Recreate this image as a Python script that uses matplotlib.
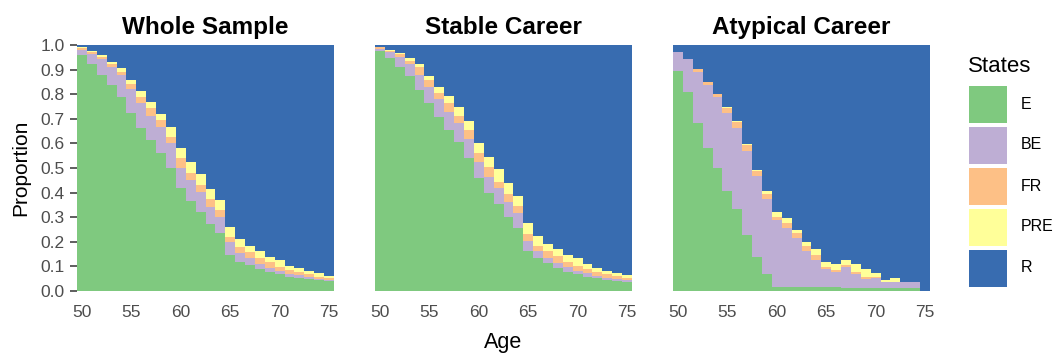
import matplotlib
matplotlib.use("Agg")
import matplotlib.pyplot as plt
from matplotlib.patches import Rectangle

ages = list(range(50, 76))
states = ["E", "BE", "FR", "PRE", "R"]
state_colors = ["#7FC97F", "#BEAED4", "#FDC086", "#FFFF99", "#386CB0"]
panel_titles = ["Whole Sample", "Stable Career", "Atypical Career"]

whole_E = [.959, .923, .879, .836, .787, .722, .664, .614, .560, .501, .417, .364, .322,
           .271, .234, .146, .119, .106, .088, .076, .068, .058, .054, .047, .043, .041]
whole_BE = [.021, .040, .064, .073, .092, .100, .099, .099, .105, .099, .084, .087, .079,
            .072, .065, .052, .034, .027, .022, .019, .015, .011, .010, .009, .007, .005]
whole_FR = [.009, .009, .010, .014, .010, .021, .027, .030, .030, .027, .038, .030, .030,
            .030, .030, .023, .025, .024, .023, .022, .016, .016, .012, .012, .008, .005]
whole_PRE = [.004, .002, .008, .009, .019, .015, .024, .027, .025, .041, .044, .042, .043,
             .042, .041, .041, .033, .026, .028, .023, .027, .018, .019, .013, .017, .009]
whole_R = [.007, .026, .039, .068, .092, .142, .186, .230, .280, .332, .417, .477, .526,
           .585, .630, .738, .789, .817, .839, .860, .874, .897, .905, .919, .925, .940]

stable_E = [.976, .946, .909, .874, .817, .763, .709, .654, .607, .539, .461, .400, .352,
            .302, .255, .164, .133, .112, .095, .079, .068, .058, .051, .045, .042, .038]
stable_BE = [.008, .024, .044, .049, .062, .065, .070, .075, .075, .079, .065, .065, .065,
             .058, .061, .041, .030, .021, .017, .017, .015, .014, .011, .009, .008, .007]
stable_FR = [.007, .007, .009, .013, .030, .030, .027, .034, .029, .036, .034, .038, .027,
             .034, .031, .027, .021, .030, .030, .023, .020, .017, .017, .014, .011, .009]
stable_PRE = [.002, .003, .005, .010, .014, .016, .022, .030, .038, .037, .043, .043, .051,
              .044, .039, .046, .041, .028, .027, .027, .030, .021, .016, .013, .014, .011]
stable_R = [.007, .020, .033, .054, .077, .126, .172, .207, .251, .309, .397, .454, .505,
            .562, .614, .722, .775, .809, .831, .854, .867, .890, .905, .919, .925, .935]

atyp_E = [.896, .808, .684, .583, .501, .408, .335, .226, .140, .068, .018, .018, .018,
          .018, .018, .018, .018, .011, .011, .011, .011, .011, .011, .011, .011, 0]
atyp_BE = [.077, .135, .205, .254, .286, .314, .329, .343, .327, .305, .269, .239, .196,
           .146, .108, .071, .061, .088, .057, .039, .043, .024, .027, .027, .027, 0]
atyp_FR = [0, 0, .012, .014, .012, .023, .024, .023, .021, .021, .015, .021, .020,
           .019, .020, .007, .006, .007, .008, .006, .004, 0, 0, 0, 0, 0]
atyp_PRE = [0, 0, 0, 0, 0, .004, .004, .004, .003, .013, .018, .020, .014,
            .015, .023, .023, .025, .020, .034, .032, .017, .010, .016, 0, 0, 0]
atyp_R = [.027, .057, .099, .149, .201, .251, .308, .404, .509, .593, .680, .702, .752,
          .802, .831, .881, .890, .874, .890, .912, .925, .955, .946, .962, .962, 1.0]

panel_data = [
    [whole_E, whole_BE, whole_FR, whole_PRE, whole_R],
    [stable_E, stable_BE, stable_FR, stable_PRE, stable_R],
    [atyp_E, atyp_BE, atyp_FR, atyp_PRE, atyp_R],
]

y_ticks = [i / 10 for i in range(11)]
x_ticks = [50, 55, 60, 65, 70, 75]

FONT = "Liberation Sans"
W, H = 1056, 356
fig = plt.figure(figsize=(W / 100, H / 100), dpi=100)
plt.rcParams["font.family"] = [FONT, "DejaVu Sans"]

lefts = [77, 375, 673]
top, bottom, width = 45, 291, 257
tick_col = "#4D4D4D"

for i, (left, title, series) in enumerate(zip(lefts, panel_titles, panel_data)):
    ax = fig.add_axes([left / W, 1 - bottom / H, width / W, (bottom - top) / H])
    base = [0.0] * len(ages)
    for vals, col in zip(series, state_colors):
        ax.bar(ages, vals, width=1.0, bottom=base, color=col, linewidth=0,
               edgecolor="none", align="center", antialiased=False)
        base = [b + v for b, v in zip(base, vals)]
    ax.set_xlim(49.5, 75.5)
    ax.set_ylim(0, 1)
    for s in ax.spines.values():
        s.set_visible(False)
    ax.set_xticks(x_ticks)
    ax.set_xticklabels([str(t) for t in x_ticks])
    ax.tick_params(axis="x", length=0, pad=10, labelsize=12.5, labelcolor=tick_col)
    if i == 0:
        ax.set_yticks(y_ticks)
        ax.set_yticklabels([f"{t:.1f}" for t in y_ticks])
        ax.tick_params(axis="y", length=5, width=1.1, color="#333333", pad=4,
                       labelsize=12.5, labelcolor=tick_col)
        ax.set_ylabel("Proportion", fontsize=15, labelpad=7)
    else:
        ax.set_yticks([])
    if i == 1:
        ax.set_xlabel("Age", fontsize=15.5, labelpad=9)
    ax.set_title(title, fontsize=17.5, fontweight="bold", pad=8)

# legend
fig.text(968 / W, 1 - 72 / H, "States", fontsize=16, ha="left", va="baseline")
key_x, key_w, key_h, key_top0, pitch = 969, 38, 37, 85.5, 41
for k, (lab, col) in enumerate(zip(states, state_colors)):
    ytop = key_top0 + k * pitch
    fig.add_artist(Rectangle((key_x / W, 1 - (ytop + key_h) / H), key_w / W, key_h / H,
                             transform=fig.transFigure, facecolor=col, edgecolor="none"))
    fig.text(1021 / W, 1 - (ytop + key_h / 2) / H, lab, fontsize=11.5,
             ha="left", va="center")

fig.savefig("out.png", dpi=100)
